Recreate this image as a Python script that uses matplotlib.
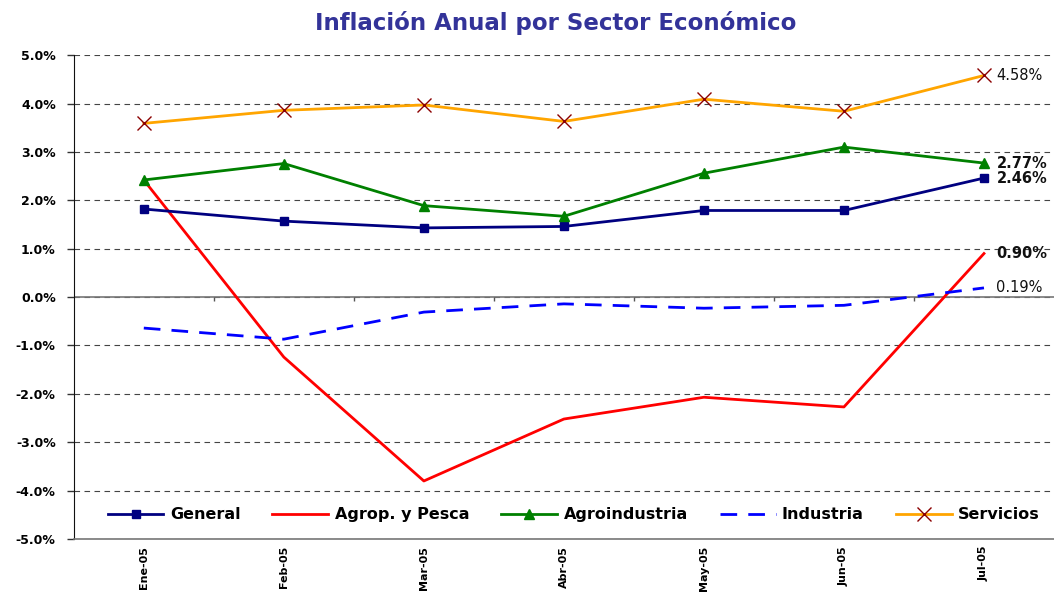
import numpy as np
import matplotlib.pyplot as plt

meses = ['Ene-05', 'Feb-05', 'Mar-05', 'Abr-05', 'May-05', 'Jun-05', 'Jul-05']

general = [1.82, 1.57, 1.43, 1.46, 1.79, 1.79, 2.46]
agrop = [2.42, -1.24, -3.80, -2.52, -2.07, -2.27, 0.90]
agroindustria = [2.42, 2.76, 1.89, 1.67, 2.56, 3.10, 2.77]
industria = [-0.64, -0.87, -0.31, -0.14, -0.23, -0.17, 0.19]
servicios = [3.59, 3.86, 3.97, 3.63, 4.09, 3.84, 4.58]

fig = plt.figure(figsize=(10.54, 5.93), dpi=100)
ax = fig.add_axes([0.070, 0.091, 0.930, 0.816])

x = np.arange(len(meses))
lw = 2.0
ax.plot(x, general, color='#000080', lw=lw, marker='s', ms=6, label='General', zorder=4)
ax.plot(x, agrop, color='#FF0000', lw=lw, label='Agrop. y Pesca', zorder=3)
ax.plot(x, agroindustria, color='#008000', lw=lw, marker='^', ms=7, label='Agroindustria', zorder=4)
ax.plot(x, industria, color='#0000FF', lw=lw, linestyle=(0, (6, 4)), label='Industria', zorder=3)
ax.plot(x, servicios, color='#FFA500', lw=lw, marker='x', ms=10, mew=1.0, mec='#8B0000',
        label='Servicios', zorder=4)

# etiquetas del ultimo mes
etiquetas = [(servicios[-1], '4.58%', 'normal'),
             (agroindustria[-1], '2.77%', 'bold'),
             (general[-1], '2.46%', 'bold'),
             (agrop[-1], '0.90%', 'bold'),
             (industria[-1], '0.19%', 'normal')]
for val, txt, w in etiquetas:
    ax.annotate(txt, (x[-1], val), xytext=(9, 0), textcoords='offset points',
                va='center', ha='left', fontsize=10.5, fontweight=w, color='#111111',
                annotation_clip=False)

ax.set_xlim(-0.5, 6.5)
ax.set_ylim(-5, 5)
ax.set_yticks(np.arange(-5, 6, 1))
ax.set_yticklabels([f'{v:.1f}%' for v in np.arange(-5, 6, 1)], fontsize=9, fontweight='bold')
ax.tick_params(axis='y', length=5, width=1, color='#333333', pad=8)
ax.yaxis.grid(True, linestyle=(0, (5, 4)), color='#444444', lw=0.8)
ax.set_axisbelow(True)

ax.set_xticks(x)
ax.set_xticklabels(meses, rotation=90, fontsize=8, fontweight='bold', va='top')
ax.tick_params(axis='x', length=0, pad=5)

for s in ['top', 'right']:
    ax.spines[s].set_visible(False)
ax.spines['left'].set_color('#111111')
ax.spines['bottom'].set_color('#777777')
ax.spines['bottom'].set_linewidth(1.2)

# linea del cero con marcas entre meses
ax.axhline(0, color='#777777', lw=1.2, zorder=2)
ax.vlines(np.arange(0.5, 6.5, 1), -0.09, 0, color='#555555', lw=1, zorder=2)

leg = ax.legend(loc='center', bbox_to_anchor=(0.51, 0.05), ncol=5, frameon=False,
                handlelength=3.5, columnspacing=2.0, handletextpad=0.4,
                prop={'weight': 'bold', 'size': 11.5})

fig.text(0.527, 0.962, 'Inflación Anual por Sector Económico', ha='center', va='center',
         fontsize=16.5, fontweight='bold', color='#333399')

fig.savefig('out.png', dpi=100)
